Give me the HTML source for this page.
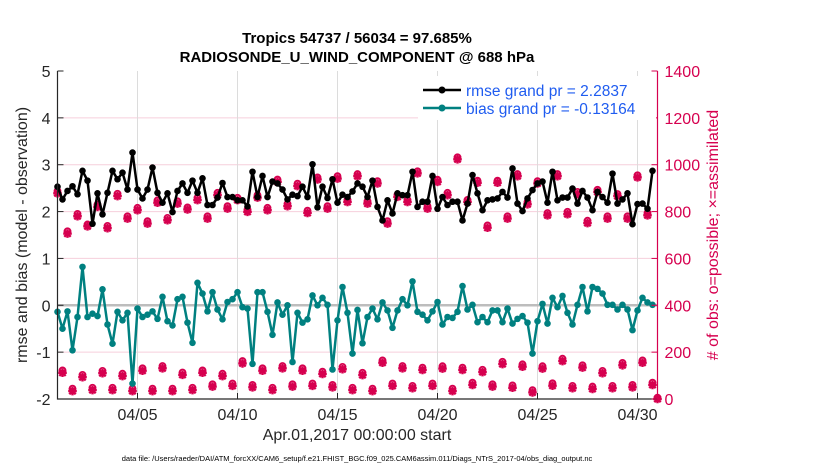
<!DOCTYPE html>
<html><head><meta charset="utf-8"><style>
body{margin:0;background:#fff;width:830px;height:470px;overflow:hidden}
text{font-family:"Liberation Sans",sans-serif}
</style></head><body>
<svg id="chart" width="830" height="470" xmlns="http://www.w3.org/2000/svg">
<g id="grid"></g>
<g id="series"></g>
<g id="axes"></g>
<text x="357" y="43" text-anchor="middle" font-size="15" font-weight="bold">Tropics 54737 / 56034 = 97.685%</text>
<text x="357" y="62" text-anchor="middle" font-size="15" font-weight="bold">RADIOSONDE_U_WIND_COMPONENT @ 688 hPa</text>
<text x="357" y="440" text-anchor="middle" font-size="16" fill="#262626">Apr.01,2017 00:00:00 start</text>
<text transform="translate(27,235) rotate(-90)" text-anchor="middle" font-size="16" fill="#262626">rmse and bias (model - observation)</text>
<text transform="translate(718,235) rotate(-90)" text-anchor="middle" font-size="16" fill="#d6004f"># of obs: o=possible; ×=assimilated</text>
<text x="357" y="461" text-anchor="middle" font-size="7.5" fill="#000">data file: /Users/raeder/DAI/ATM_forcXX/CAM6_setup/f.e21.FHIST_BGC.f09_025.CAM6assim.011/Diags_NTrS_2017-04/obs_diag_output.nc</text>
<g>
<rect x="418" y="76" width="238" height="44" fill="#fff"/>
<line x1="423" y1="90" x2="461" y2="90" stroke="#000" stroke-width="2.5"/><circle cx="442" cy="90" r="3.5" fill="#000"/>
<text x="466" y="96" font-size="15.5" fill="#1f5cf0">rmse grand pr = 2.2837</text>
<line x1="423" y1="108" x2="461" y2="108" stroke="#008080" stroke-width="2.5"/><circle cx="442" cy="108" r="3.5" fill="#008080"/>
<text x="466" y="114" font-size="15.5" fill="#1f5cf0">bias grand pr = -0.13164</text>
</g>
</svg>
<script>
const rmse=[2.53,2.26,2.44,2.54,2.37,2.87,2.66,1.74,2.39,1.94,2.4,2.87,2.69,2.83,2.47,3.26,2.47,2.28,2.47,2.94,2.4,2.19,2.39,1.99,2.44,2.6,2.4,2.66,2.4,2.71,2.14,
2.14,2.3,2.61,2.31,2.31,2.24,2.24,2.11,2.85,2.31,2.76,2.31,2.64,2.6,2.47,2.26,2.36,2.33,2.53,2.31,3.01,2.09,2.53,2.29,2.69,2.19,2.36,2.31,2.43,2.6,
2.53,2.31,2.66,2.1,1.81,2.24,1.96,2.39,2.35,2.35,2.85,2.1,2.21,2.21,2.76,2.06,2.31,2.14,2.21,2.21,1.81,2.17,2.78,2.39,2.03,2.24,2.26,2.28,2.42,
2.3,2.92,2.17,2.01,2.28,2.46,2.6,2.64,2.19,2.85,2.24,2.3,2.3,2.49,2.17,2.44,2.3,2.03,2.42,2.31,2.19,2.81,2.17,2.26,2.39,1.73,2.16,2.17,2.06,2.87];
const bias=[-0.14,-0.5,-0.13,-0.96,-0.25,0.82,-0.25,-0.18,-0.23,0.34,-0.41,-0.82,-0.14,-0.32,-0.16,-1.67,-0.07,-0.25,-0.2,-0.13,-0.29,0.18,-0.34,-0.43,0.13,0.18,-0.37,-0.8,0.48,0.25,-0.13,
0.28,-0.09,-0.3,0.07,0.13,0.28,-0.04,-0.07,-1.25,0.28,0.28,-0.14,-0.63,0.06,-0.2,0,-1.21,-0.16,-0.37,-0.3,0.21,0,0.16,0.01,-1.37,-0.32,0.39,-0.16,-1.03,-0.1,
-0.81,-0.25,-0.07,-0.3,0.06,-0.11,-0.48,-0.11,0.13,0,0.51,-0.14,-0.2,-0.32,-0.13,0.07,-0.41,-0.25,-0.27,-0.14,0.41,-0.09,0.01,-0.36,-0.25,-0.36,-0.11,-0.11,-0.36,-0.07,
-0.39,-0.29,-0.23,-0.37,-1.03,-0.34,0.03,-0.39,0.16,-0.04,0.2,-0.16,-0.41,0.01,0.39,-0.13,0.39,0.35,0.25,0.01,0.01,-0.09,0.01,-0.09,-0.53,-0.11,0.16,0.06,0.01];
// observation counts at 00Z/12Z slots (even indices) and 06Z/18Z slots (odd indices)
const obsHighAssim=[878,706,780,737,820,729,866,770,806,749,838,763,834,809,849,770,870,813,849,799,860,806,927,823,909,794,937,813,941,841,951,834,920,749,863,841,963,813,927,870,1023,841,923,731,923,770,951,831,920,784,951,789,874,751,884,770,866,770,946,784,0];
const obsHighPoss=[888,716,790,745,830,739,876,780,816,759,848,773,844,818,859,780,880,823,859,809,870,816,937,833,919,804,946,823,951,850,960,844,930,759,873,850,972,823,936,880,1032,850,932,741,932,780,960,841,930,794,960,799,884,761,893,780,875,780,955,794,6];
const obsLowAssim=[112,34,93,38,110,38,98,34,121,34,131,34,103,38,112,53,98,56,152,50,121,38,131,53,121,56,107,50,127,38,102,34,155,56,131,46,124,56,130,34,124,60,115,53,149,48,138,28,130,57,162,46,134,43,110,46,144,50,155,60];
const obsLowPoss=[122,44,103,48,120,48,108,44,131,44,141,44,113,48,122,63,108,66,162,60,131,48,141,63,131,66,117,60,137,48,112,44,165,66,141,56,134,66,140,44,134,70,125,63,159,58,148,38,140,67,172,56,144,53,120,56,154,60,165,70];
const yTicks=[-2,-1,0,1,2,3,4,5];
const yRightTicks=[0,200,400,600,800,1000,1200,1400];
const xTickDays=[4,9,14,19,24,29];
const xTickLabels=["04/05","04/10","04/15","04/20","04/25","04/30"];

const L=57.5,R=657.5,T=71,B=399;
const NS="http://www.w3.org/2000/svg";
const xs=d=>L+(R-L)*d/30;
const ys=v=>B-(B-T)*(v+2)/7;
const yo=c=>B-(B-T)*c/1400;
const dayOf=i=>i*0.25;
function mk(tag,attrs,parent){const e=document.createElementNS(NS,tag);for(const k in attrs)e.setAttribute(k,attrs[k]);parent.appendChild(e);return e;}
const grid=document.getElementById('grid'),ser=document.getElementById('series'),ax=document.getElementById('axes');

yTicks.forEach(v=>{if(v>-2&&v<5){const g=mk('line',{x1:L,x2:R,y1:ys(v),y2:ys(v),stroke:'#f6cfdc','stroke-width':1},grid);

}});
xTickDays.forEach(d=>{const g=mk('line',{x1:xs(d),x2:xs(d),y1:T,y2:B,stroke:'#dcdcdc','stroke-width':1},grid);

});
const zl=mk('line',{x1:L,x2:R,y1:ys(0),y2:ys(0),stroke:'#bdbdbd','stroke-width':2.5},grid);



function star(cx,cy,parent,name){const r=4.3;const p=mk('path',{d:`M${cx-r},${cy}H${cx+r}M${cx},${cy-r}V${cy+r}M${cx-3.2},${cy-3.2}L${cx+3.2},${cy+3.2}M${cx-3.2},${cy+3.2}L${cx+3.2},${cy-3.2}`,stroke:'#d6004f','stroke-width':2.4},parent);

}
function ring(cx,cy,parent,name){const c=mk('circle',{cx:cx,cy:cy,r:3,fill:'none',stroke:'#d6004f','stroke-width':1.8},parent);

}
obsHighAssim.forEach((c,k)=>{const x=xs(dayOf(2*k));star(x,yo(c),ser,'obs-assimilated-marker');ring(x,yo(obsHighPoss[k]),ser,'obs-possible-marker');});
obsLowAssim.forEach((c,k)=>{const x=xs(dayOf(2*k+1));star(x,yo(c),ser,'obs-assimilated-marker');ring(x,yo(obsLowPoss[k]),ser,'obs-possible-marker');});

function line(arr,color,name){
 const pts=arr.map((v,i)=>xs(dayOf(i)).toFixed(1)+','+ys(v).toFixed(1)).join(' ');
 const pl=mk('polyline',{points:pts,fill:'none',stroke:color,'stroke-width':2.5,'stroke-linejoin':'round'},ser);
 
 
 arr.forEach((v,i)=>{const c=mk('circle',{cx:xs(dayOf(i)),cy:ys(v),r:3.3,fill:color},ser);
 
 });
}
line(bias,'#008080','bias');
line(rmse,'#000000','rmse');

const fr=mk('path',{d:`M${L},${T}V${B}H${R}`,fill:'none',stroke:'#262626','stroke-width':1.2},ax);


const ra=mk('line',{x1:R,x2:R,y1:T,y2:B,stroke:'#d6004f','stroke-width':1.2},ax);


yTicks.forEach(v=>{mk('line',{x1:L,x2:L+6,y1:ys(v),y2:ys(v),stroke:'#262626'},ax);
const t=mk('text',{x:L-7,y:ys(v)+6,'text-anchor':'end','font-size':16,fill:'#262626'},ax);t.textContent=v;

});
yRightTicks.forEach(c=>{mk('line',{x1:R-6,x2:R,y1:yo(c),y2:yo(c),stroke:'#d6004f'},ax);
const t=mk('text',{x:R+7,y:yo(c)+6,'font-size':16,fill:'#d6004f'},ax);t.textContent=c;

});
xTickDays.forEach((d,i)=>{mk('line',{x1:xs(d),x2:xs(d),y1:B,y2:B-6,stroke:'#262626'},ax);
const t=mk('text',{x:xs(d),y:B+21,'text-anchor':'middle','font-size':16,fill:'#262626'},ax);t.textContent=xTickLabels[i];

});
</script>
</body></html>
